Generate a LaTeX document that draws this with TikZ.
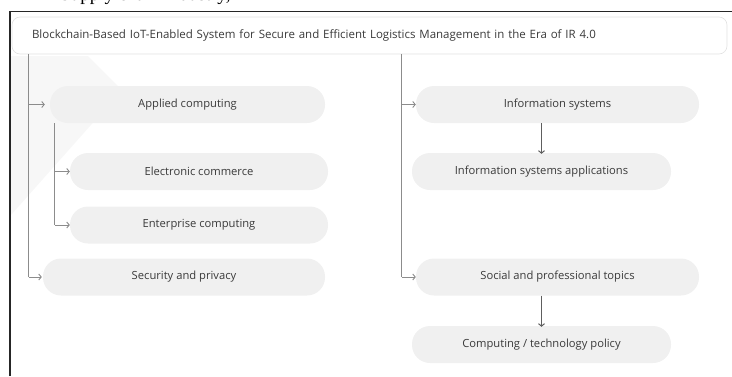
\documentclass[tikz,border=0pt]{standalone}
\usepackage{fontspec}
\setmainfont{Open Sans}
\newfontfamily\serifdoc{Liberation Serif}
\usetikzlibrary{arrows.meta}
\definecolor{pillfill}{HTML}{F0F0F0}
\definecolor{txt}{HTML}{3A3A3A}
\definecolor{conncol}{HTML}{8C8C8C}
\definecolor{downcol}{HTML}{5E5E5E}
\definecolor{titleborder}{HTML}{E2E2E2}
\definecolor{faint}{HTML}{F7F7F7}
\begin{document}
\begin{tikzpicture}[x=1pt,y=-1pt,
  pill/.style={fill=pillfill, draw=none, rounded corners=18pt, minimum height=37pt,
    inner sep=0pt, text=txt, font=\fontsize{11.2}{13}\selectfont},
  titlebox/.style={fill=white, draw=titleborder, line width=0.6pt, rounded corners=8pt,
    minimum height=37pt, text width=675pt, align=left, inner xsep=20pt, inner ysep=0pt, text=txt,
    font=\fontsize{11.5}{13}\selectfont},
  conn/.style={draw=conncol, line width=0.9pt, -{Straight Barb[length=2.5pt,width=6pt]}},
  trunk/.style={draw=conncol, line width=0.9pt},
  downarrow/.style={draw=downcol, line width=1pt, -{Straight Barb[length=2.5pt,width=6pt]}}
]
\useasboundingbox (0,0) rectangle (732,376);
% clipped text of the page above the figure
\begin{scope}
  \clip (0,0) rectangle (732,10.5);
  \node[anchor=base west, inner sep=0pt, font=\serifdoc\fontsize{19}{20}\selectfont] (frag) at (60,0.5) {Supply chain industry,};
\end{scope}
% faint background shape
\fill[faint] (11,56) -- (88,56) -- (122,90) -- (11,215) -- cycle;
% frame
\draw[line width=1.6pt, black!85] (10,376) -- (10,11.5) -- (732,11.5);
% title
\node[titlebox] (title) at (369.5,35.5) {Blockchain-Based IoT-Enabled System for Secure and Efficient Logistics Management in the Era of IR 4.0};
% left column
\node[pill, minimum width=275pt] (ac) at (187.5,104.5) {Applied computing};
\node[pill, minimum width=258pt] (ec) at (199,171.5) {Electronic commerce};
\node[pill, minimum width=258pt] (enc) at (199,225) {Enterprise computing};
\node[pill, minimum width=282pt] (sp) at (184,277) {Security and privacy};
% right column
\node[pill, minimum width=283pt] (is) at (557.5,104.5) {Information systems};
\node[pill, minimum width=259pt] (isa) at (541.5,171.5) {Information systems applications};
\node[pill, minimum width=283pt] (spt) at (557.5,277) {Social and professional topics};
\node[pill, minimum width=259pt] (ctp) at (541.5,344.5) {Computing / technology policy};
% left trunk
\coordinate (lt) at ([xshift=17pt]title.south west);
\draw[trunk] (lt) -- (lt |- sp.west);
\draw[conn, shorten >=5pt] (lt |- ac.west) -- (ac.west);
\draw[conn, shorten >=1pt] (lt |- sp.west) -- (sp.west);
% sub trunk
\coordinate (st) at ([xshift=5pt]ac.south west);
\draw[trunk] (st) -- (st |- enc.west);
\draw[conn, shorten >=0pt] (st |- ec.west) -- (ec.west);
\draw[conn, shorten >=0pt] (st |- enc.west) -- (enc.west);
% right trunk
\coordinate (rt) at ([xshift=390pt]title.south west);
\draw[trunk] (rt) -- (rt |- spt.west);
\draw[conn, shorten >=0pt] (rt |- is.west) -- (is.west);
\draw[conn, shorten >=0pt] (rt |- spt.west) -- (spt.west);
% down arrows
\draw[downarrow] (isa.north |- is.south) -- ([yshift=-1pt]isa.north);
\draw[downarrow] (ctp.north |- spt.south) -- ([yshift=-1pt]ctp.north);
\end{tikzpicture}
\end{document}
